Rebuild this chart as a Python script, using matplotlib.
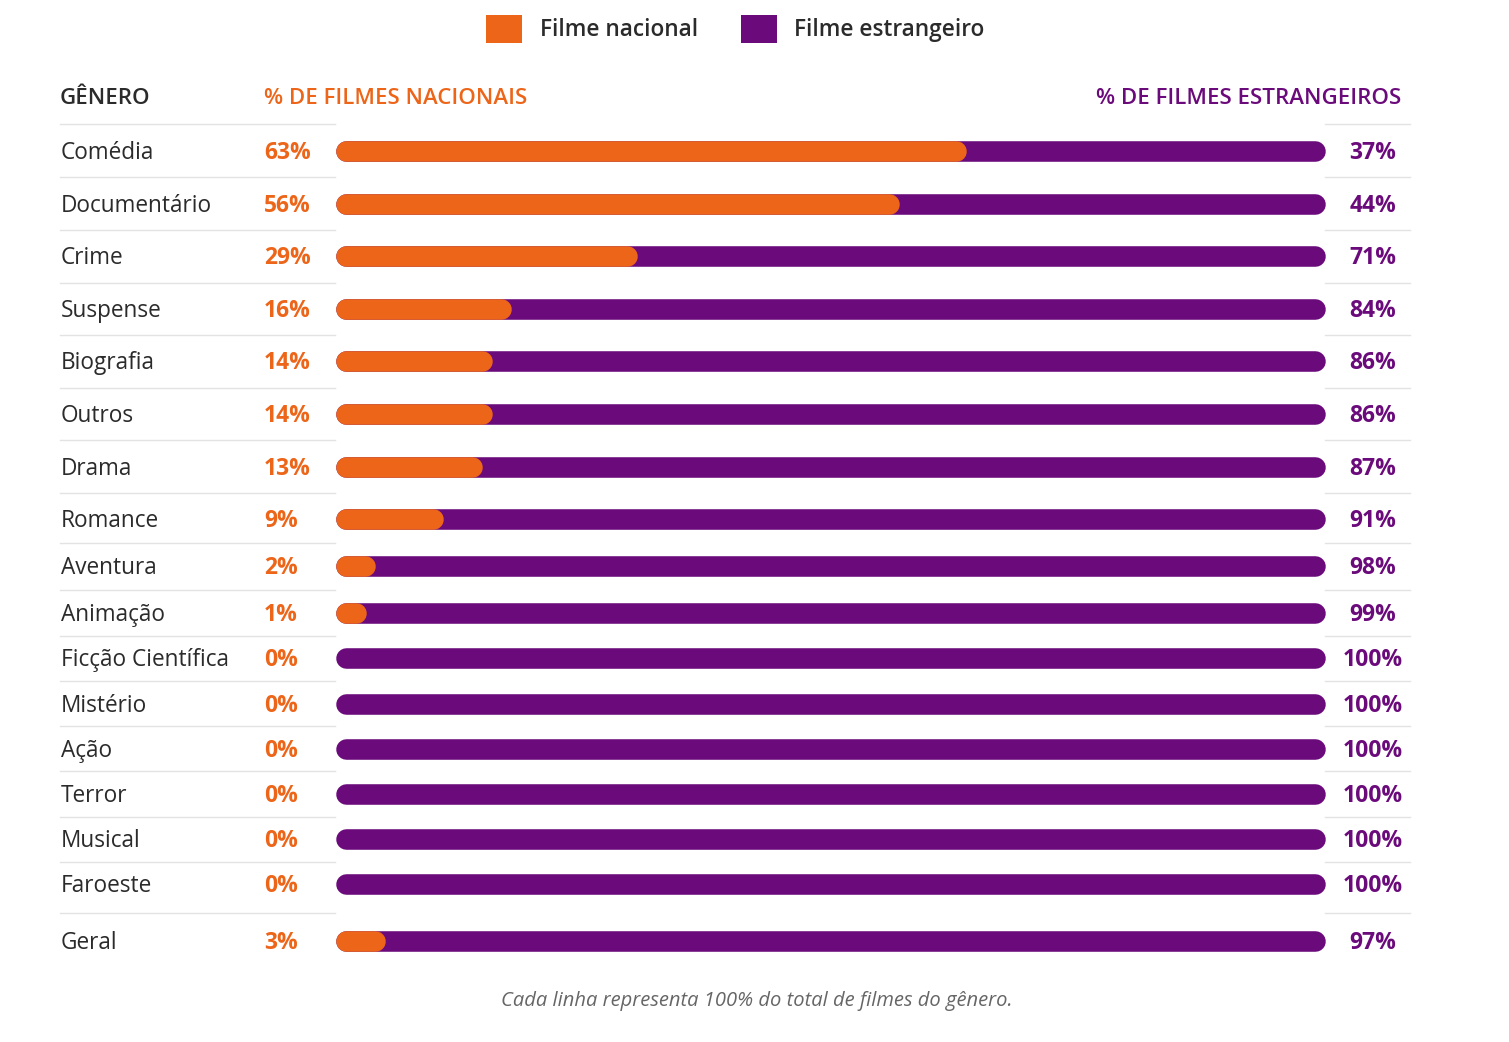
import matplotlib
matplotlib.use('Agg')

import matplotlib.pyplot as plt
import matplotlib.patches as patches

# --- data ---
genres = ['Comédia', 'Documentário', 'Crime', 'Suspense', 'Biografia', 'Outros',
          'Drama', 'Romance', 'Aventura', 'Animação', 'Ficção Científica',
          'Mistério', 'Ação', 'Terror', 'Musical', 'Faroeste', 'Geral']
nacional = [63, 56, 29, 16, 14, 14, 13, 9, 2, 1, 0, 0, 0, 0, 0, 0, 3]
estrangeiro = [37, 44, 71, 84, 86, 86, 87, 91, 98, 99, 100, 100, 100, 100, 100, 100, 97]

# --- style ---
ORANGE = '#EC6519'
PURPLE = '#6B0A7B'
DARK = '#2b2b2b'
GRID = '#e3e3e3'
FONT = 'Open Sans'

W, H = 1509, 1042
plt.rcParams['font.family'] = [FONT, 'DejaVu Sans']

fig = plt.figure(figsize=(W / 100, H / 100), dpi=100)
fig.patch.set_facecolor('white')

# overlay axes in pixel coordinates for text / separators
ov = fig.add_axes([0, 0, 1, 1])
ov.set_xlim(0, W)
ov.set_ylim(H, 0)
ov.axis('off')

# bar axes: x in percent, y in pixels
bar_x0, bar_x1 = 346, 1315
ax = fig.add_axes([bar_x0 / W, 0, (bar_x1 - bar_x0) / W, 1])
ax.set_xlim(0, 100)
ax.set_ylim(H, 0)
ax.axis('off')
ax.patch.set_alpha(0)

# row centres: first rows taller, later rows tighter, Geral separated
ys = []
y = 151
for i in range(len(genres)):
    ys.append(y)
    if i < 7:
        y += 52.6
    elif i < 9:
        y += 47
    elif i < 15:
        y += 45.2
    else:
        y += 57

# separators
seps = [124] + [(ys[i] + ys[i + 1]) / 2 for i in range(len(ys) - 1)]
for s in seps:
    ov.plot([60, 335], [s, s], color=GRID, lw=1, zorder=1)
    ov.plot([1325, 1410], [s, s], color=GRID, lw=1, zorder=1)

# bars
for yi, n in zip(ys, nacional):
    ax.plot([0, 100], [yi, yi], color=PURPLE, lw=14.8, solid_capstyle='round',
            zorder=2, clip_on=False)
    if n > 0:
        ax.plot([0, n], [yi, yi], color=ORANGE, lw=14.8, solid_capstyle='round',
                zorder=3, clip_on=False)

# row labels
dy = 2
for yi, g, n, e in zip(ys, genres, nacional, estrangeiro):
    ov.text(61, yi + dy, g, ha='left', va='center', fontsize=16.3, color=DARK)
    ov.text(264, yi + dy, f'{n}%', ha='left', va='center', fontsize=16.5,
            color=ORANGE, fontweight='bold')
    ov.text(1373, yi + dy, f'{e}%', ha='center', va='center', fontsize=16.5,
            color=PURPLE, fontweight='bold')

# header
ov.text(60, 99, 'GÊNERO', ha='left', va='center', fontsize=16, color=DARK,
        fontweight='semibold')
ov.text(264, 99, '% DE FILMES NACIONAIS', ha='left', va='center', fontsize=16,
        color=ORANGE, fontweight='semibold')
ov.text(1401, 99, '% DE FILMES ESTRANGEIROS', ha='right', va='center', fontsize=16,
        color=PURPLE, fontweight='semibold')

# legend
ov.add_patch(patches.Rectangle((486, 15), 36, 28, facecolor=ORANGE, edgecolor='none'))
ov.text(540, 30, 'Filme nacional', ha='left', va='center', fontsize=16.3,
        color=DARK, fontweight='semibold')
ov.add_patch(patches.Rectangle((741, 15), 36, 28, facecolor=PURPLE, edgecolor='none'))
ov.text(794, 30, 'Filme estrangeiro', ha='left', va='center', fontsize=16.3,
        color=DARK, fontweight='semibold')

# footer
ov.text(757, 1001, 'Cada linha representa 100% do total de filmes do gênero.',
        ha='center', va='center', fontsize=14.5, color='#666666', style='italic')

fig.savefig('out.png', dpi=100, facecolor='white')
